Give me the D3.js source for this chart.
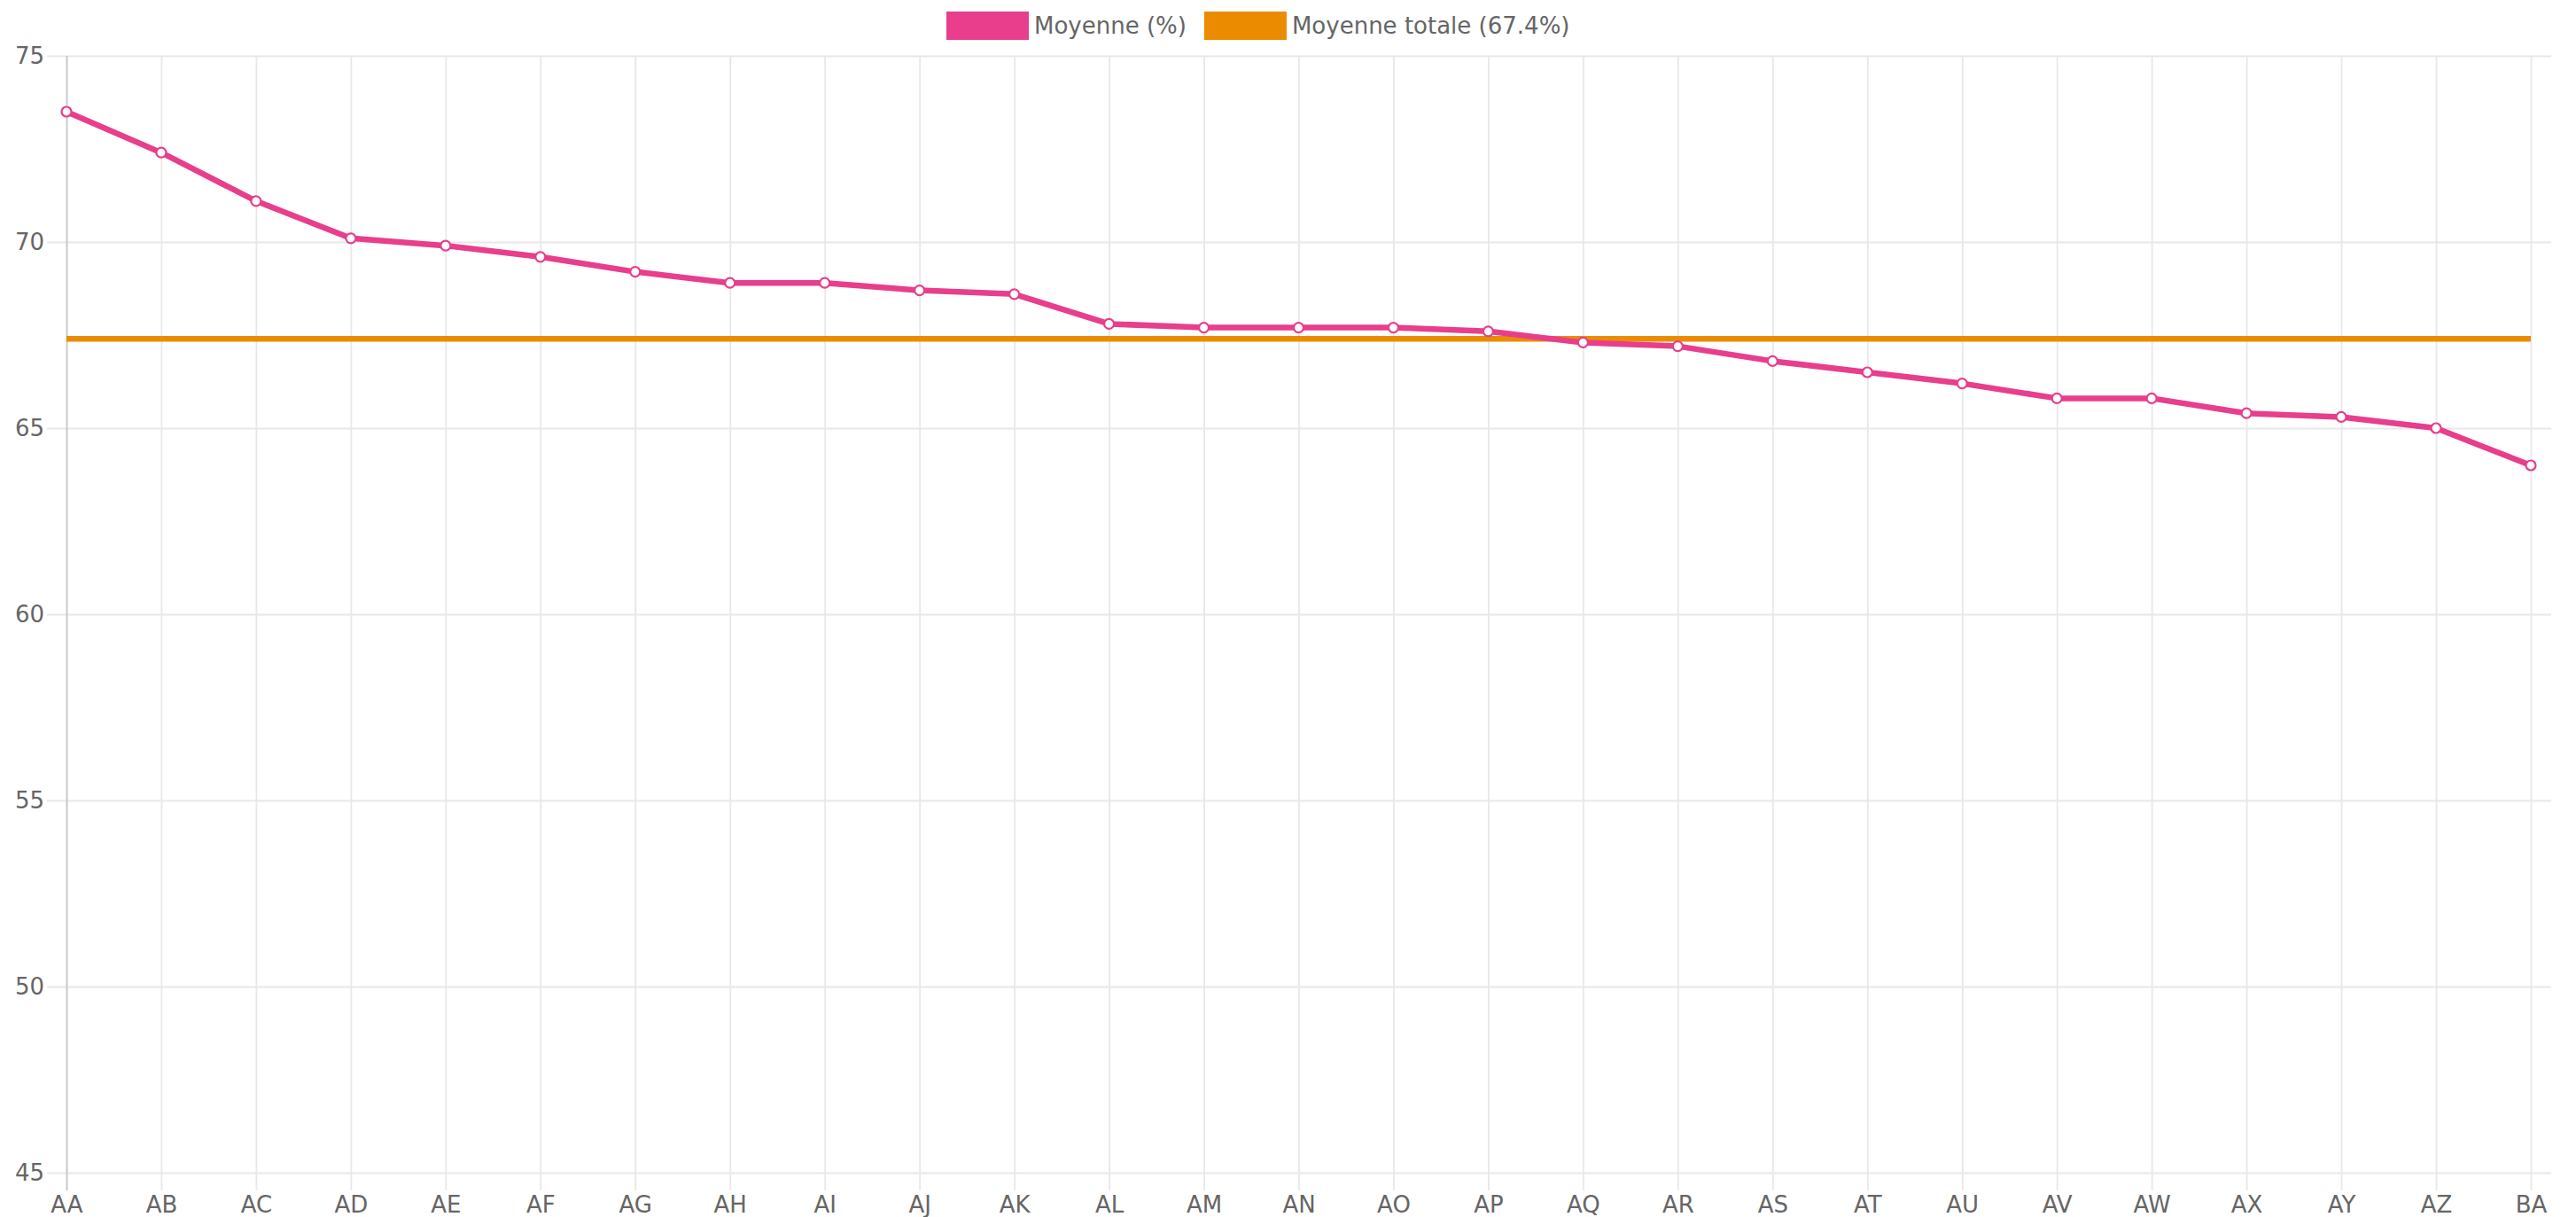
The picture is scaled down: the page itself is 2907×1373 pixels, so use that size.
<!DOCTYPE html>
<html>
<head>
<meta charset="utf-8">
<script src="https://cdn.jsdelivr.net/npm/d3@7"></script>
<style>
  body { margin: 0; background: #fff; }
  svg { display: block; font-family: "DejaVu Sans", Verdana, sans-serif; }
</style>
</head>
<body>
<div id="chart"></div>
<script>
// labels on the x axis
const categories = ['AA','AB','AC','AD','AE','AF','AG','AH','AI','AJ','AK','AL','AM','AN','AO','AP','AQ','AR','AS','AT','AU','AV','AW','AX','AY','AZ','BA'];
// Moyenne (%) per category
const moyenne = [73.5, 72.4, 71.1, 70.1, 69.9, 69.6, 69.2, 68.9, 68.9, 68.7, 68.6, 67.8, 67.7, 67.7, 67.7, 67.6, 67.3, 67.2, 66.8, 66.5, 66.2, 65.8, 65.8, 65.4, 65.3, 65.0, 64.0];
const moyenneTotale = 67.4;
const yTicks = [45, 50, 55, 60, 65, 70, 75];
const legendItems = [
  {label: 'Moyenne (%)', color: '#e83e8c'},
  {label: 'Moyenne totale (67.4%)', color: '#eb8c00'}
];

const width = 2907, height = 1373;
const mLeft = 75, mRight = 2856, gridRight = 2879, mTop = 63, mBottom = 1323;
const fontSize = 26;

const svg = d3.select('#chart').append('svg')
  .attr('width', width).attr('height', height);

const x = d3.scalePoint().domain(categories).range([mLeft, mRight]);
const y = d3.scaleLinear().domain([45, 75]).range([mBottom, mTop]);

// horizontal grid + y ticks
const yAxis = svg.append('g').attr('transform', `translate(${mLeft},0)`)
  .call(d3.axisLeft(y).tickValues(yTicks).tickSize(22).tickPadding(3));
yAxis.select('.domain').remove();
yAxis.selectAll('line').attr('stroke', '#e8e8e8').attr('stroke-width', 1.8)
  .attr('x2', -22).attr('x1', gridRight - mLeft);
yAxis.selectAll('text').attr('fill', '#666').attr('font-size', fontSize)
  .attr('font-family', '"DejaVu Sans", sans-serif');

// vertical grid + x ticks
const xAxis = svg.append('g').attr('transform', `translate(0,${mBottom})`)
  .call(d3.axisBottom(x).tickSize(20).tickPadding(7));
xAxis.select('.domain').remove();
xAxis.selectAll('line').attr('stroke', (d, i) => i === 0 ? '#c4c4c4' : '#e8e8e8')
  .attr('stroke-width', 1.8).attr('y1', mTop - mBottom).attr('y2', 20);
xAxis.selectAll('text').attr('fill', '#666').attr('font-size', fontSize)
  .attr('font-family', '"DejaVu Sans", sans-serif');

// average line
svg.append('line')
  .attr('x1', x(categories[0])).attr('x2', x(categories[categories.length - 1]))
  .attr('y1', y(moyenneTotale)).attr('y2', y(moyenneTotale))
  .attr('stroke', legendItems[1].color).attr('stroke-width', 6.5);

// series line
const line = d3.line().x((d, i) => x(categories[i])).y(d => y(d));
svg.append('path').datum(moyenne)
  .attr('d', line).attr('fill', 'none')
  .attr('stroke', legendItems[0].color).attr('stroke-width', 6.5)
  .attr('stroke-linejoin', 'round');

svg.append('g').selectAll('circle').data(moyenne).join('circle')
  .attr('cx', (d, i) => x(categories[i])).attr('cy', d => y(d))
  .attr('r', 5.5).attr('fill', '#fff')
  .attr('stroke', legendItems[0].color).attr('stroke-width', 2.2);

// legend
const legend = svg.append('g').attr('font-size', fontSize).attr('fill', '#666');
let lx = 1068;
legendItems.forEach(item => {
  legend.append('rect').attr('x', lx).attr('y', 13).attr('width', 93).attr('height', 32)
    .attr('fill', item.color);
  const t = legend.append('text').attr('x', lx + 99).attr('y', 29)
    .attr('dy', '0.35em').attr('fill', '#666').text(item.label);
  lx += 99 + t.node().getComputedTextLength() + 20;
});
</script>
</body>
</html>
